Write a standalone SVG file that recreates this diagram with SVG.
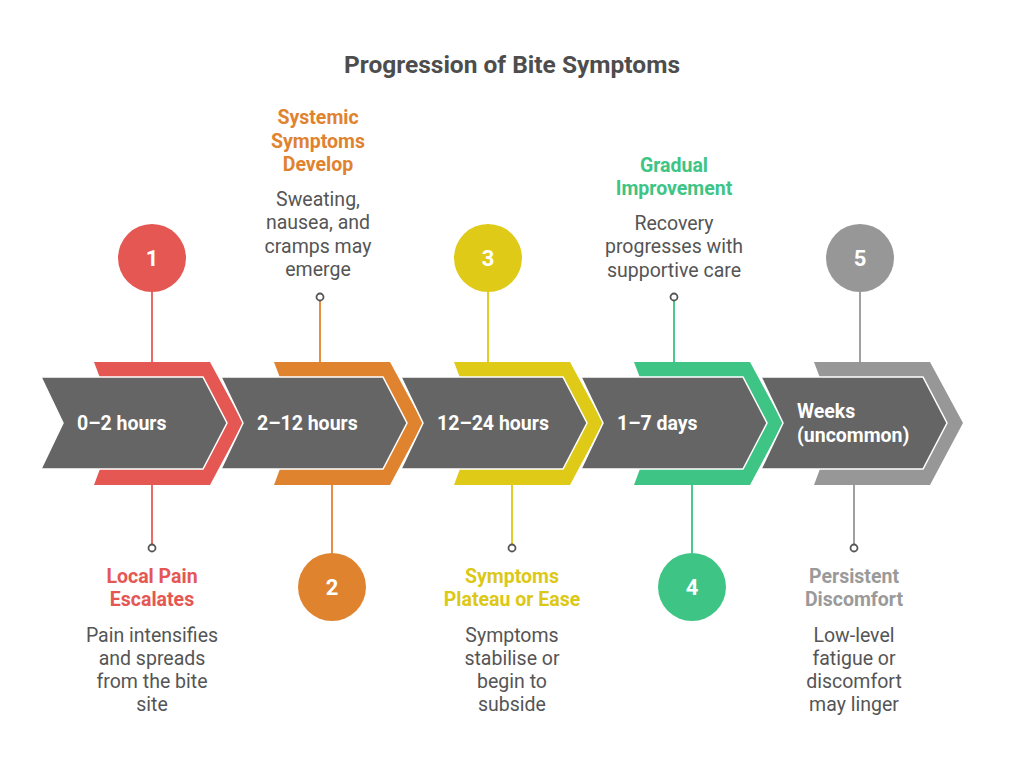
<svg xmlns="http://www.w3.org/2000/svg" width="1024" height="764" viewBox="0 0 1024 764">
<style>
text{font-family:Roboto,"Liberation Sans",sans-serif}
.title{font-size:24.5px;font-weight:bold;fill:#4d4d4d;text-anchor:middle}
.chev{fill:#656565;stroke:#ffffff;stroke-width:1.5}
.lab{font-size:19.5px;font-weight:bold;fill:#ffffff}
.num{font-size:22px;font-weight:bold;fill:#ffffff;text-anchor:middle}
.head{font-size:19.5px;font-weight:bold;text-anchor:middle}
.desc{font-size:19.5px;fill:#555555;text-anchor:middle}
.dot{fill:#ffffff;stroke:#555555;stroke-width:1.8}
.ln{stroke-width:2;fill:none}
</style>
<rect width="1024" height="764" fill="#ffffff"/>
<text class="title" x="512" y="73">Progression of Bite Symptoms</text>

<g id="connectors">
<line class="ln" x1="152" y1="292" x2="152" y2="362" stroke="#e86b68"/>
<line class="ln" x1="152" y1="485" x2="152" y2="545" stroke="#e86b68"/>
<line class="ln" x1="320" y1="300" x2="320" y2="362" stroke="#e58f45"/>
<line class="ln" x1="332" y1="485" x2="332" y2="553" stroke="#e58f45"/>
<line class="ln" x1="488" y1="292" x2="488" y2="362" stroke="#e0cd25"/>
<line class="ln" x1="512" y1="485" x2="512" y2="545" stroke="#e0cd25"/>
<line class="ln" x1="674" y1="300" x2="674" y2="362" stroke="#4cc98c"/>
<line class="ln" x1="692" y1="485" x2="692" y2="553" stroke="#4cc98c"/>
<line class="ln" x1="860" y1="292" x2="860" y2="362" stroke="#a0a0a0"/>
<line class="ln" x1="854" y1="485" x2="854" y2="545" stroke="#a0a0a0"/>
<circle class="dot" cx="152" cy="548" r="3.5"/>
<circle class="dot" cx="320" cy="297" r="3.5"/>
<circle class="dot" cx="512" cy="548" r="3.5"/>
<circle class="dot" cx="674" cy="297" r="3.5"/>
<circle class="dot" cx="854" cy="548" r="3.5"/>
</g>

<g id="step1">
<polygon points="94,362 210,362 243,423 210,485 94,485 117,423" fill="#e55753"/>
<polygon class="chev" points="41,377 203,377 227,423 203,469 41,469 63,423"/>
<text class="lab" x="77" y="430">0–2 hours</text>
<circle cx="152" cy="258" r="34" fill="#e55753"/>
<text class="num" x="152" y="266">1</text>
<text class="head" fill="#e55753" x="152" y="583">Local Pain</text>
<text class="head" fill="#e55753" x="152" y="606">Escalates</text>
<text class="desc" x="152" y="642">Pain intensifies</text>
<text class="desc" x="152" y="665">and spreads</text>
<text class="desc" x="152" y="688">from the bite</text>
<text class="desc" x="152" y="711">site</text>
</g>

<g id="step2">
<polygon points="274,362 390,362 423,423 390,485 274,485 297,423" fill="#e0832f"/>
<polygon class="chev" points="221,377 383,377 407,423 383,469 221,469 243,423"/>
<text class="lab" x="257" y="430">2–12 hours</text>
<circle cx="332" cy="587" r="34" fill="#e0832f"/>
<text class="num" x="332" y="595">2</text>
<text class="head" fill="#e0832f" x="318" y="124">Systemic</text>
<text class="head" fill="#e0832f" x="318" y="148">Symptoms</text>
<text class="head" fill="#e0832f" x="318" y="171">Develop</text>
<text class="desc" x="318" y="206">Sweating,</text>
<text class="desc" x="318" y="229">nausea, and</text>
<text class="desc" x="318" y="253">cramps may</text>
<text class="desc" x="318" y="276">emerge</text>
</g>

<g id="step3">
<polygon points="454,362 570,362 603,423 570,485 454,485 477,423" fill="#dfca18"/>
<polygon class="chev" points="401,377 563,377 587,423 563,469 401,469 423,423"/>
<text class="lab" x="437" y="430">12–24 hours</text>
<circle cx="488" cy="258" r="34" fill="#dfca18"/>
<text class="num" x="488" y="266">3</text>
<text class="head" fill="#dcc816" x="512" y="583">Symptoms</text>
<text class="head" fill="#dcc816" x="512" y="606">Plateau or Ease</text>
<text class="desc" x="512" y="642">Symptoms</text>
<text class="desc" x="512" y="665">stabilise or</text>
<text class="desc" x="512" y="688">begin to</text>
<text class="desc" x="512" y="711">subside</text>
</g>

<g id="step4">
<polygon points="634,362 750,362 783,423 750,485 634,485 657,423" fill="#3ec484"/>
<polygon class="chev" points="581,377 743,377 767,423 743,469 581,469 603,423"/>
<text class="lab" x="617" y="430">1–7 days</text>
<circle cx="692" cy="587" r="34" fill="#3ec484"/>
<text class="num" x="692" y="595">4</text>
<text class="head" fill="#3ec484" x="674" y="172">Gradual</text>
<text class="head" fill="#3ec484" x="674" y="195">Improvement</text>
<text class="desc" x="674" y="230">Recovery</text>
<text class="desc" x="674" y="253">progresses with</text>
<text class="desc" x="674" y="277">supportive care</text>
</g>

<g id="step5">
<polygon points="814,362 930,362 963,423 930,485 814,485 837,423" fill="#979797"/>
<polygon class="chev" points="761,377 923,377 947,423 923,469 761,469 783,423"/>
<text class="lab" x="797" y="418">Weeks</text>
<text class="lab" x="797" y="442">(uncommon)</text>
<circle cx="860" cy="258" r="34" fill="#979797"/>
<text class="num" x="860" y="266">5</text>
<text class="head" fill="#9a9a9a" x="854" y="583">Persistent</text>
<text class="head" fill="#9a9a9a" x="854" y="606">Discomfort</text>
<text class="desc" x="854" y="642">Low-level</text>
<text class="desc" x="854" y="665">fatigue or</text>
<text class="desc" x="854" y="688">discomfort</text>
<text class="desc" x="854" y="711">may linger</text>
</g>
</svg>
